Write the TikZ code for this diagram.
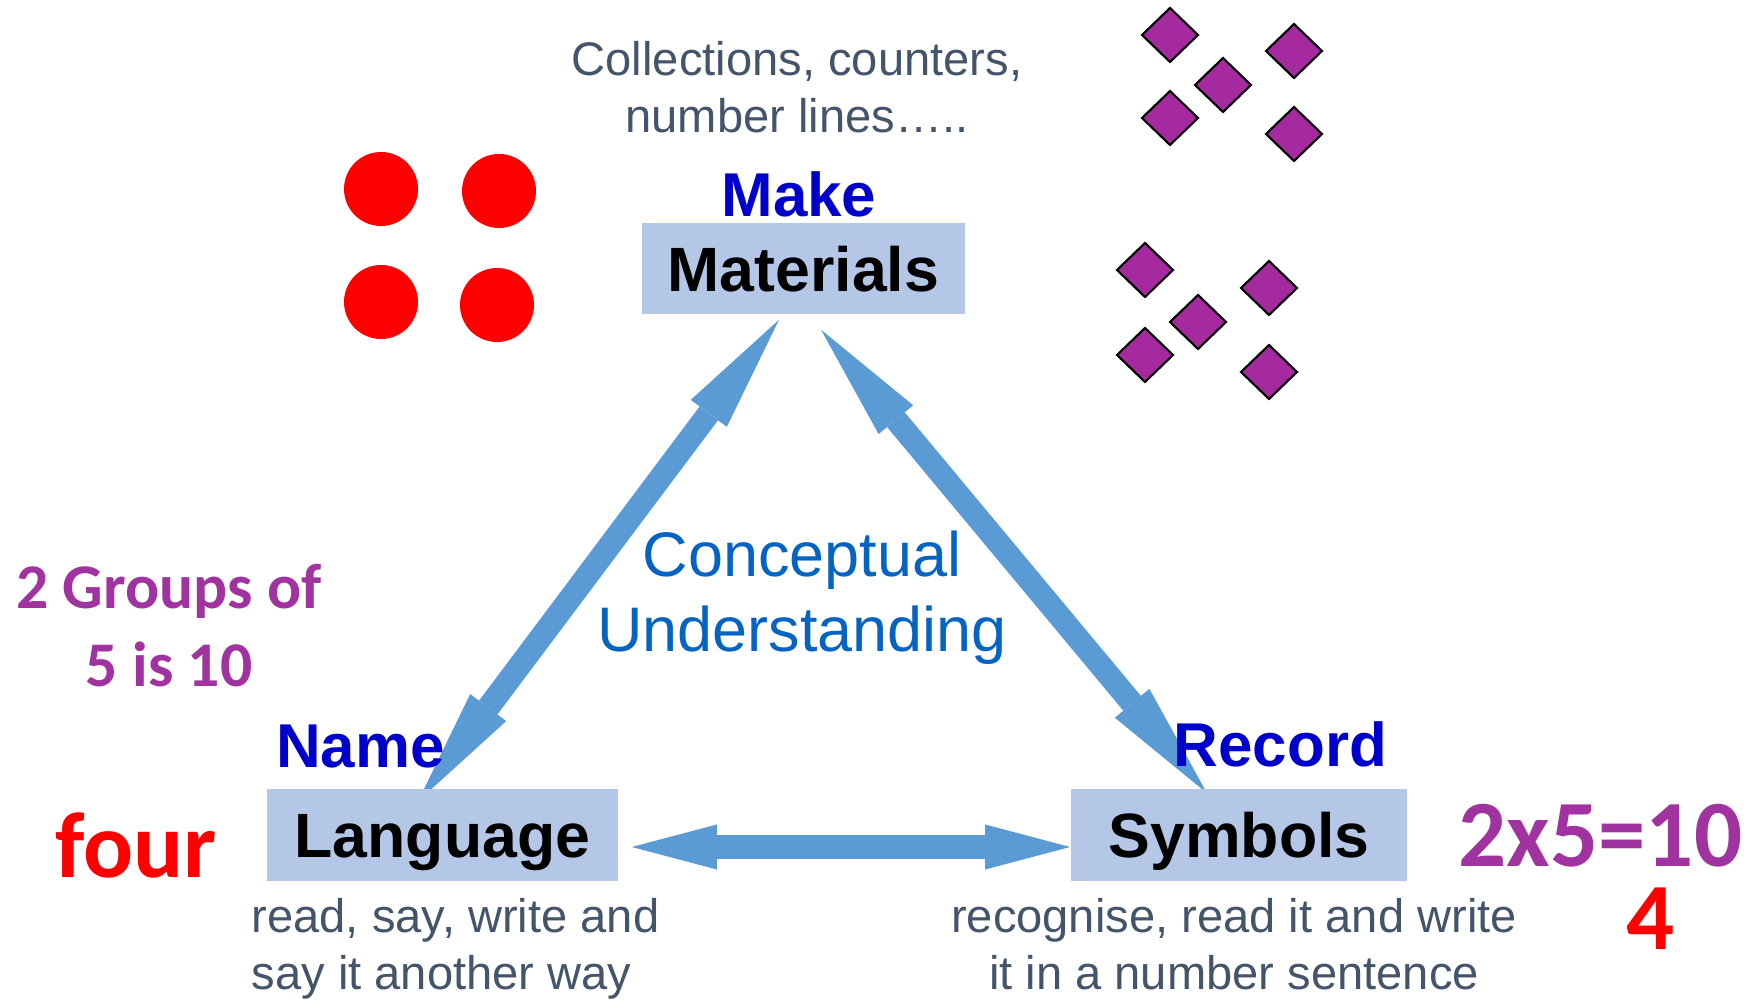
\documentclass[tikz,border=0pt]{standalone}
\usepackage{fontspec}
\setmainfont{Liberation Sans}
\newfontfamily\cali{Carlito}
\usepackage{tikz}
\usetikzlibrary{calc,arrows.meta}
\definecolor{slate}{HTML}{44546A}
\definecolor{boxblue}{HTML}{B4C7E7}
\definecolor{arrowblue}{HTML}{5B9BD5}
\definecolor{headblue}{HTML}{0000CC}
\definecolor{ideablue}{HTML}{0563C1}
\definecolor{plum}{HTML}{A033A0}
\definecolor{gemfill}{HTML}{A5299F}
\pgfdeclarelayer{back}
\pgfsetlayers{back,main}
\tikzset{
	card/.style={fill=boxblue, inner sep=0pt, text height=0.45cm, text depth=0pt, font=\bfseries\fontsize{17.8}{20}\selectfont},
	tag/.style={anchor=base, inner sep=0pt, text=headblue, font=\bfseries\fontsize{17.6}{20}\selectfont},
	note/.style={inner sep=0pt, text=slate, font=\fontsize{13.4}{16.4}\selectfont},
	sum/.style={anchor=base, inner sep=0pt, font=\cali\bfseries\fontsize{27}{30}\selectfont},
	link/.style={draw=arrowblue, line width=0.23cm},
	tiltarrow/.style={link, {Triangle[width=0.45cm,length=1.17cm,line width=0pt]}-{Triangle[width=0.45cm,length=1.17cm,line width=0pt]}},
	sidearrow/.style={link, {Triangle[width=0.45cm,length=0.85cm,line width=0pt]}-{Triangle[width=0.45cm,length=0.85cm,line width=0pt]}},
	gemst/.style={fill=gemfill, draw=black, line width=0.6pt}
}
\def\gem(#1,#2){\draw[gemst] (#1,#2) +(-28,0) -- +(0,-27) -- +(28,0) -- +(0,27) -- cycle;}

\begin{document}
\begin{tikzpicture}[x=0.01cm, y=-0.01cm]
			%%%%% START %%%%%
			\useasboundingbox (0,0) rectangle (1754,1001);
			
			% the three boxes
			\node[card, minimum width=3.23cm, minimum height=0.91cm] (mat) at (803.5,268.5) {Materials};
			\node[card, minimum width=3.51cm, minimum height=0.92cm] (lang) at (442.5,835) {Language};
			\node[card, minimum width=3.36cm, minimum height=0.92cm] (sym) at (1239,835) {Symbols};
			
			\node[tag] (make) at (799,217) {Make};
			\node[tag] (name) at (360.5,768) {Name};
			\node[tag] (record) at (1280.5,767) {Record};
			
			% base of a two line node = last line
			\node[note, align=center, anchor=base] (tools) at (797,133) {Collections, counters,\\number lines…..};
			\node[note, align=left, anchor=base west] (say) at (251,990) {read, say, write and\\say it another way};
			\node[note, align=center, anchor=base] (write) at (1234,990) {recognise, read it and write\\it in a number sentence};
			
			\node[align=center, anchor=base, inner sep=0pt, text=ideablue, font=\fontsize{17.9}{21.6}\selectfont] (idea) at (802,652) {Conceptual\\Understanding};
			
			% arrows behind the boxes
			\begin{pgfonlayer}{back}
				\draw[tiltarrow] ($(mat.south)+(-24.5,5)$) -- ($(lang.north)+(-24.5,13)$);
				\draw[tiltarrow] ($(mat.south)+(17.5,15)$) -- ($(sym.north)+(-32,5)$);
				\draw[sidearrow] ($(lang.east)+(13,12)$) -- ($(sym.west)+(0,12)$);
			\end{pgfonlayer}
			
			% counters
			\fill[red] (381,189) circle (37);
			\fill[red] (499,191) circle (37);
			\fill[red] (381,302) circle (37);
			\fill[red] (497,305) circle (37);
			
			\foreach \gx/\gy in {1170/35, 1294/51, 1223/85, 1170/118, 1294/134,
				1145/270, 1269/288, 1198/322, 1145/355, 1269/372}
				{\gem(\gx,\gy)}
			
			% worked example
			\node[align=center, anchor=base, inner sep=0pt, text=plum, font=\cali\bfseries\fontsize{18.1}{22.2}\selectfont] (groups) at (169,687) {2 Groups of\\5 is 10};
			\node[sum, text=red, font=\cali\bfseries\fontsize{26.5}{30}\selectfont] (word) at (136,878) {four};
			\node[sum, text=plum] (eqn) at (1600.5,867) {2x5=10};
			\node[sum, text=red] (digit) at (1651,950) {4};
			
			%%%%% END %%%%%
\end{tikzpicture}
\end{document}
